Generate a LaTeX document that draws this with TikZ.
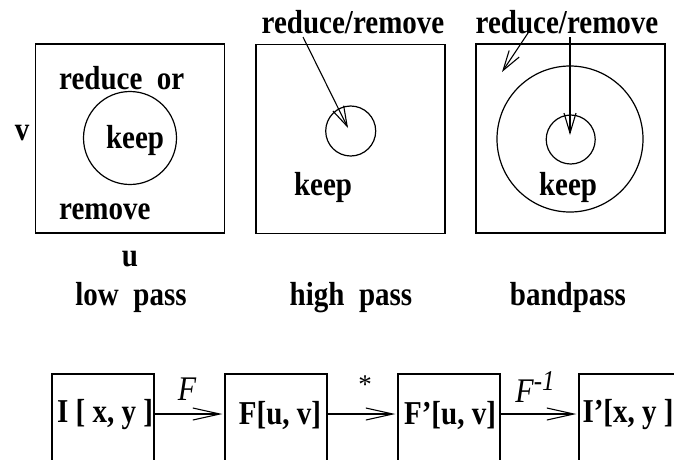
\documentclass[tikz,border=0pt]{standalone}
\usepackage{fontspec}
\usepackage{graphicx}
\setmainfont{Liberation Serif}
\usetikzlibrary{arrows.meta}
\newcommand\tallt[1]{\scalebox{1}[1.15]{#1}}
\begin{document}
\begin{tikzpicture}[x=1pt,y=-1pt,
  lbl/.style={font=\fontsize{29}{34}\selectfont\bfseries, inner sep=0pt},
  ilbl/.style={font=\fontsize{30}{34}\selectfont\itshape, inner sep=0pt},
  frame/.style={draw, line width=1.2pt, inner sep=0pt, minimum width=189pt, minimum height=189pt},
  bbox/.style={draw, line width=1.2pt, inner sep=0pt, minimum width=102pt, minimum height=100pt},
  ring/.style={draw, circle, line width=1.2pt, inner sep=0pt},
  toparrow/.style={line width=1.1pt, -{Straight Barb[length=20pt,width=12pt]}},
  botarrow/.style={line width=1.1pt, shorten >=2pt, -{Straight Barb[length=27pt,width=12pt]}}
  ]
\useasboundingbox (0,0) rectangle (674,459);
\clip (0,0) rectangle (674,459);
% ---------- top row ----------
\node[frame] (b1) at (130,138.5) {};
\node[frame] (b2) at (350.5,139) {};
\node[frame] (b3) at (570.5,138.5) {};
\node[ring, minimum size=93pt] (c1) at (130,138) {};
\node[ring, minimum size=50pt] (c2) at (350.7,131) {};
\node[ring, minimum size=146pt] (c3o) at (570,139) {};
\node[ring, minimum size=49pt] (c3i) at (570.7,139.5) {};
% low pass
\node[lbl, anchor=west] (ro) at (59,78) {\tallt{reduce~~or}};
\node[lbl] (k1) at (135,140) {\tallt{keep}};
\node[lbl, anchor=west] (rm) at (59,212) {\tallt{remove}};
\node[lbl] (v) at (22,133) {\tallt{v}};
\node[lbl] (u) at (130,259) {\tallt{u}};
\node[lbl, anchor=base] (lp) at (131,305) {\tallt{low~~pass}};
% high pass
\node[lbl] (rr2) at (353,22) {\tallt{reduce/remove}};
\node[lbl] (k2) at (323,187) {\tallt{keep}};
\node[lbl, anchor=base] (hp) at (351,305) {\tallt{high~~pass}};
\coordinate (s2) at (303,37);
\coordinate (t2) at (348,128);
\draw[toparrow] (s2) -- (t2);
% bandpass
\node[lbl] (rr3) at (567,22) {\tallt{reduce/remove}};
\node[lbl] (k3) at (568,187) {\tallt{keep}};
\node[lbl, anchor=base] (bp) at (568,305) {\tallt{bandpass}};
\coordinate (s3a) at (530,30);
\coordinate (t3a) at (502,72);
\coordinate (s3b) at (570,37);
\coordinate (t3b) at (570,135);
\draw[toparrow] (s3a) -- (t3a);
\draw[toparrow] (s3b) -- (t3b);
% ---------- bottom row ----------
\node[bbox] (A) at (103,424) {};
\node[bbox] (B) at (276,424) {};
\node[bbox] (C) at (449,424) {};
\node[bbox] (D) at (630,424) {};
\node[lbl] (tA) at (105,415) {\tallt{I [ x, y ]}};
\node[lbl] (tB) at (280,415) {\tallt{F[u, v]}};
\node[lbl] (tC) at (450,415) {\tallt{F’[u, v]}};
\node[lbl] (tD) at (628,415) {\tallt{I’[x, y ]}};
\draw[botarrow] ([yshift=10pt]A.east) -- ([yshift=10pt]B.west);
\draw[botarrow] ([yshift=10pt]B.east) -- ([yshift=10pt]C.west);
\draw[botarrow] ([yshift=10pt]C.east) -- ([yshift=10pt]D.west);
\node[ilbl] (fF) at (187,389) {\tallt{F}};
\node[font=\fontsize{27}{32}\selectfont, inner sep=0pt] (st) at (365,385) {*};
\node[ilbl] (fI) at (535,387) {\tallt{F\raisebox{10pt}{\fontsize{25}{25}\selectfont -1}}};
\end{tikzpicture}
\end{document}
